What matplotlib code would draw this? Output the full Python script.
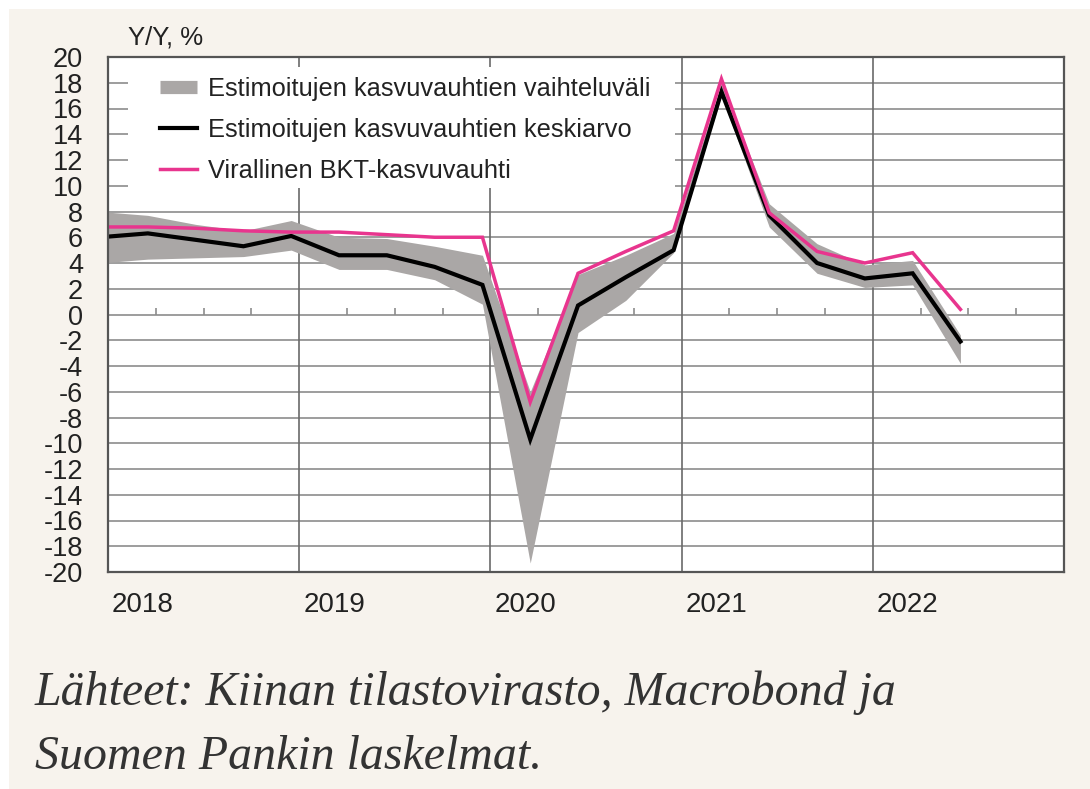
import numpy as np
import matplotlib.pyplot as plt
from matplotlib.patches import Rectangle
from matplotlib.lines import Line2D

# quarterly data, 2017Q4 ... 2022Q2
quarters = ["2017Q4",
            "2018Q1", "2018Q2", "2018Q3", "2018Q4",
            "2019Q1", "2019Q2", "2019Q3", "2019Q4",
            "2020Q1", "2020Q2", "2020Q3", "2020Q4",
            "2021Q1", "2021Q2", "2021Q3", "2021Q4",
            "2022Q1", "2022Q2"]
official = [6.8, 6.8, 6.7, 6.5, 6.4, 6.4, 6.2, 6.0, 6.0, -6.8, 3.2, 4.9, 6.5,
            18.3, 7.9, 4.9, 4.0, 4.8, 0.4]
est_mean = [6.0, 6.3, 5.8, 5.3, 6.1, 4.6, 4.6, 3.7, 2.3, -9.7, 0.7, 2.9, 5.0,
            17.3, 7.7, 4.0, 2.8, 3.2, -2.1]
est_low = [4.0, 4.3, 4.4, 4.5, 5.0, 3.5, 3.5, 2.7, 0.8, -19.3, -1.4, 1.1, 4.8,
           17.0, 6.8, 3.2, 2.1, 2.3, -3.8]
est_high = [8.0, 7.7, 7.0, 6.5, 7.3, 6.0, 5.9, 5.3, 4.6, -6.0, 3.1, 4.6, 6.3,
            18.0, 8.6, 5.5, 3.85, 4.2, -1.6]
years = [2018, 2019, 2020, 2021, 2022]

labels = ["Estimoitujen kasvuvauhtien vaihteluväli",
          "Estimoitujen kasvuvauhtien keskiarvo",
          "Virallinen BKT-kasvuvauhti"]

# quarter -> middle of the last month of the quarter, in fractional years
def qpos(q):
    y, k = int(q[:4]), int(q[-1])
    return y + (3 * k - 0.5) / 12

x = np.array([qpos(q) for q in quarters])

BG = "#f7f3ed"
GRAY = "#aaa7a6"
PINK = "#e8358e"
GRID = "#8c8c8c"
TXT = "#222222"

plt.rcParams["font.family"] = ["Liberation Sans", "DejaVu Sans"]

fig = plt.figure(figsize=(10.9, 7.89), dpi=100, facecolor="white")
fig.patches.append(Rectangle((9 / 1090, 0), 1, 1 - 9 / 789, transform=fig.transFigure,
                             facecolor=BG, edgecolor="none", zorder=-10))

ax = fig.add_axes([108 / 1090, 1 - 572 / 789, 956 / 1090, 515 / 789])
ax.set_facecolor("white")
ax.set_xlim(years[0], years[-1] + 1)
ax.set_ylim(-20, 20)

# grid
for v in np.arange(-18, 20, 2):
    ax.axhline(v, color=GRID, lw=1.2, zorder=0.5)
for yr in years[1:]:
    ax.axvline(yr, color="#6a6a6a", lw=1.2, zorder=0.5)
qb = [yr + k / 4 for yr in years for k in (1, 2, 3)]
ax.vlines(qb, 0, 0.5, color=GRID, lw=1.2, zorder=0.5)

# white box behind legend
ax.add_patch(Rectangle((20 / 956, 1 - 131 / 515), 547 / 956, 121 / 515,
                       transform=ax.transAxes, facecolor="white",
                       edgecolor="none", zorder=1))

ax.fill_between(x, est_low, est_high, color=GRAY, lw=0, zorder=2)
ax.plot(x, est_mean, color="black", lw=3.0, zorder=3, solid_joinstyle="miter")
ax.plot(x, official, color=PINK, lw=2.5, zorder=4, solid_joinstyle="miter")

for s in ax.spines.values():
    s.set_color("#555555")
    s.set_linewidth(1.6)
    s.set_zorder(5)

ax.set_yticks(np.arange(-20, 21, 2))
ax.set_yticklabels([str(v) for v in range(-20, 21, 2)])
ax.tick_params(axis="y", length=0, pad=18, labelsize=19.5, labelcolor=TXT)
ax.set_xticks([])
for yr in years:
    ax.text(yr + 4 / 191.2, -0.064, str(yr), transform=ax.get_xaxis_transform(),
            ha="left", va="center", fontsize=20, color=TXT)

handles = [Line2D([], [], color=GRAY, lw=9.5, solid_capstyle="butt"),
           Line2D([], [], color="black", lw=3.0),
           Line2D([], [], color=PINK, lw=2.5)]
ax.legend(handles, labels, loc="upper left",
          bbox_to_anchor=(52 / 956, 1 - 20 / 515), frameon=False,
          borderpad=0, borderaxespad=0, fontsize=18.3, handlelength=1.45,
          handletextpad=0.45, labelspacing=0.66, labelcolor=TXT)

fig.text(128 / 1090, 1 - 38 / 789, "Y/Y, %", fontsize=18.5, color=TXT,
         ha="left", va="center")

fig.text(35 / 1090, 1 - 693 / 789, "Lähteet: Kiinan tilastovirasto, Macrobond ja",
         fontsize=34.5, family=["Liberation Serif", "DejaVu Serif"], style="italic",
         color="#333333", ha="left", va="center")
fig.text(35 / 1090, 1 - 757 / 789, "Suomen Pankin laskelmat.",
         fontsize=34.5, family=["Liberation Serif", "DejaVu Serif"], style="italic",
         color="#333333", ha="left", va="center")

plt.savefig("out.png", dpi=100, facecolor=fig.get_facecolor())
plt.close()
